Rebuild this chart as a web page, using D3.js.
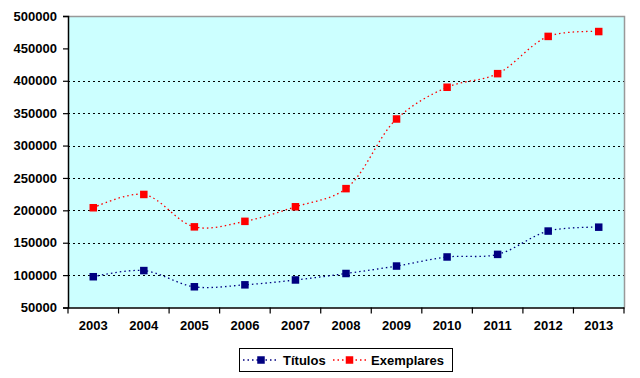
<!DOCTYPE html>
<html><head><meta charset="utf-8">
<script src="https://cdn.jsdelivr.net/npm/d3@7"></script>
<style>body{margin:0;background:#fff}svg{display:block}text{font-family:Arial,"Liberation Sans",sans-serif;font-weight:bold}</style>
</head><body>
<svg id="c" width="640" height="378"></svg>
<script>
const years = ["2003","2004","2005","2006","2007","2008","2009","2010","2011","2012","2013"];
const titulos = [97500, 107000, 82000, 85000, 92500, 102500, 114000, 128000, 132000, 168000, 174000];
const exemplares = [204000, 224500, 174500, 183000, 205500, 233500, 341000, 390000, 411000, 468500, 476000];
const yTicks = [50000,100000,150000,200000,250000,300000,350000,400000,450000,500000];
const gridValues = [100000,150000,200000,250000,300000,350000,400000];

const svg = d3.select("#c");
const L=68, R=624, T=16, B=307.5;
const x = d3.scaleBand().domain(years).range([L,R]);
const y = d3.scaleLinear().domain([50000,500000]).range([B,T]);

svg.append("rect").attr("x",L).attr("y",T).attr("width",R-L).attr("height",B-T).attr("fill","#ccffff");

// gridlines
svg.append("g").selectAll("line").data(gridValues).join("line")
  .attr("x1",L).attr("x2",R).attr("y1",d=>Math.round(y(d))+0.5).attr("y2",d=>Math.round(y(d))+0.5)
  .attr("stroke","#000").attr("stroke-width",1).attr("stroke-dasharray","2,3");

// top & right border
svg.append("path").attr("d",`M${L},${T+0.5}H${R+0.5}V${B}`).attr("fill","none").attr("stroke","#999").attr("stroke-width",1.5);

// y axis
const ya = svg.append("g").attr("transform",`translate(${L},0)`)
  .call(d3.axisLeft(y).tickValues(yTicks).tickSize(5).tickPadding(6).tickFormat(d3.format("d")));
ya.select(".domain").attr("stroke","#000").attr("stroke-width",1.5);
ya.selectAll(".tick line").attr("stroke","#000").attr("stroke-width",1.2);
ya.selectAll("text").attr("font-size",13).attr("font-family","Arial, 'Liberation Sans', sans-serif").attr("font-weight","bold").attr("fill","#000");

// x axis
const xa = svg.append("g").attr("transform",`translate(0,${B})`)
  .call(d3.axisBottom(x).tickSize(0).tickPadding(13));
xa.select(".domain").attr("stroke","#000").attr("stroke-width",1.5);
xa.selectAll("text").attr("font-size",13).attr("font-family","Arial, 'Liberation Sans', sans-serif").attr("font-weight","bold").attr("fill","#000");
const bounds = years.map(d=>x(d)).concat([R]);
xa.append("g").selectAll("line").data(bounds).join("line")
  .attr("x1",d=>d).attr("x2",d=>d).attr("y1",0).attr("y2",6).attr("stroke","#000").attr("stroke-width",1.2);

const cx = d=>x(d)+x.bandwidth()/2;
const line = d3.line().x((d,i)=>cx(years[i])).y(d=>y(d)).curve(d3.curveCatmullRom.alpha(0.5));

function series(vals,color,dash){
  svg.append("path").attr("d",line(vals)).attr("fill","none").attr("stroke",color).attr("stroke-width",1.3).attr("stroke-dasharray",dash);
  svg.append("g").selectAll("rect").data(vals).join("rect")
    .attr("x",(d,i)=>cx(years[i])-3.75).attr("y",d=>y(d)-3.75).attr("width",7.5).attr("height",7.5).attr("fill",color);
}
series(titulos,"#000080","1.5,3");
series(exemplares,"#ff0000","1.5,3");

// legend
const lg = svg.append("g");
lg.append("rect").attr("x",239.5).attr("y",348.5).attr("width",213).attr("height",23).attr("fill","#fff").attr("stroke","#000").attr("stroke-width",1);
const items = [{name:"Títulos",color:"#000080",x0:243,x1:279,tx:283},{name:"Exemplares",color:"#ff0000",x0:333,x1:366,tx:371}];
items.forEach(it=>{
  lg.append("line").attr("x1",it.x0).attr("x2",it.x1).attr("y1",360).attr("y2",360).attr("stroke",it.color).attr("stroke-width",1.3).attr("stroke-dasharray","1.5,3");
  const m=(it.x0+it.x1)/2;
  lg.append("rect").attr("x",m-3.75).attr("y",356.25).attr("width",7.5).attr("height",7.5).attr("fill",it.color);
  lg.append("text").attr("x",it.tx).attr("y",364.5).attr("font-size",13).attr("fill","#000").text(it.name);
});
</script>
</body></html>
